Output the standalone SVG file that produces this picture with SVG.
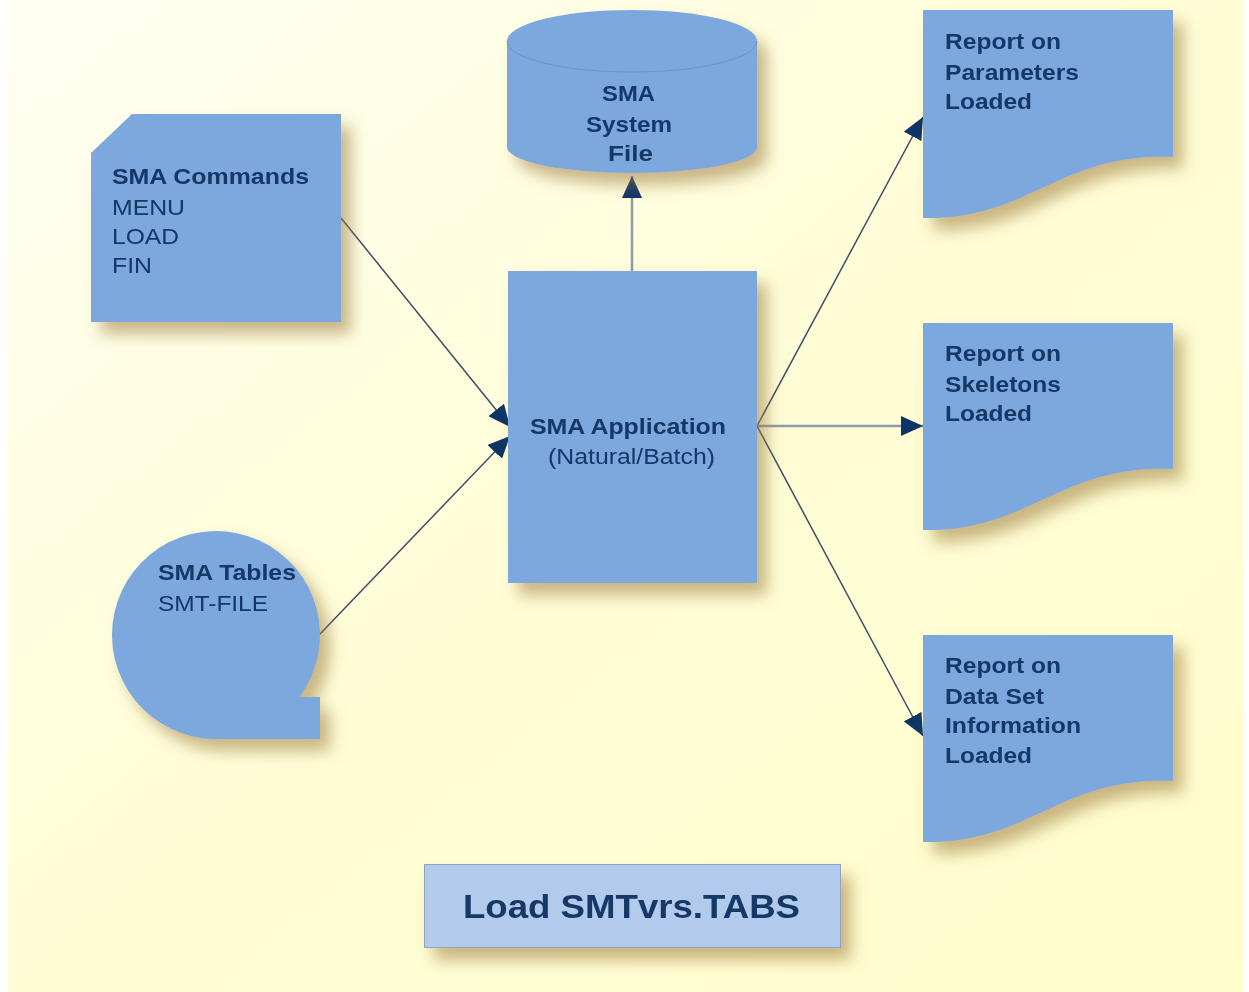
<svg xmlns="http://www.w3.org/2000/svg" width="1249" height="992" viewBox="0 0 1249 992">
<defs>
<linearGradient id="bg" x1="0" y1="0" x2="1" y2="1">
<stop offset="0" stop-color="#FFFFF2"/>
<stop offset="0.5" stop-color="#FFFDD6"/>
<stop offset="1" stop-color="#FFFDCC"/>
</linearGradient>
<filter id="sh" x="-20%" y="-20%" width="150%" height="150%">
<feGaussianBlur in="SourceAlpha" stdDeviation="8"/>
<feOffset dx="10" dy="12" result="b"/>
<feFlood flood-color="#9C7A3C" flood-opacity="0.55"/>
<feComposite in2="b" operator="in"/>
<feMerge><feMergeNode/><feMergeNode in="SourceGraphic"/></feMerge>
</filter>
<marker id="ah" viewBox="0 0 22 20" refX="22" refY="10" markerWidth="22" markerHeight="20" markerUnits="userSpaceOnUse" orient="auto">
<path d="M0,0 L22,10 L0,20 Z" fill="#0D3466"/>
</marker>
<style>
.node{fill:#7DA8DE;}
text{font-family:'Liberation Sans',Arial,Helvetica,sans-serif;font-size:22px;fill:#123766;}
.b{font-weight:bold;}
.c{stroke:#3C4E68;stroke-width:1.5;fill:none;}
.g{stroke:#8E9BA8;stroke-width:2.5;fill:none;}
</style>
</defs>
<rect x="0" y="0" width="1249" height="992" fill="#FFFFFF"/>
<rect x="8" y="0" width="1236" height="992" fill="url(#bg)"/>

<g id="connectors">
<line class="c" x1="341" y1="218" x2="510" y2="427" marker-end="url(#ah)"/>
<line class="c" x1="320" y1="634" x2="510" y2="436" marker-end="url(#ah)"/>
<line class="g" x1="632" y1="271" x2="632" y2="176" marker-end="url(#ah)"/>
<line class="c" x1="757" y1="426" x2="923" y2="117" marker-end="url(#ah)"/>
<line class="g" x1="757" y1="426" x2="923" y2="426" marker-end="url(#ah)"/>
<line class="c" x1="757" y1="426" x2="923" y2="736" marker-end="url(#ah)"/>
</g>

<g id="sma-commands" filter="url(#sh)">
<path class="node" d="M132,114 L341,114 L341,322 L91,322 L91,153 Z"/>
<text class="b" x="112" y="184" textLength="197" lengthAdjust="spacingAndGlyphs">SMA Commands</text>
<text x="112" y="215" textLength="73" lengthAdjust="spacingAndGlyphs">MENU</text>
<text x="112" y="244" textLength="67" lengthAdjust="spacingAndGlyphs">LOAD</text>
<text x="112" y="273" textLength="40" lengthAdjust="spacingAndGlyphs">FIN</text>
</g>

<g id="sma-tables" filter="url(#sh)">
<path class="node" d="M320,739 L216,739 A104,104 0 1 1 299.5,697 L320,697 Z"/>
<text class="b" x="158" y="580" textLength="138" lengthAdjust="spacingAndGlyphs">SMA Tables</text>
<text x="158" y="611" textLength="110" lengthAdjust="spacingAndGlyphs">SMT-FILE</text>
</g>

<g id="sma-system-file" filter="url(#sh)">
<path class="node" d="M507,41 A125,31 0 0 1 757,41 L757,147 A125,26 0 0 1 507,147 Z"/>
<path d="M507,41 A125,31 0 0 0 757,41" fill="none" stroke="#6B93C8" stroke-width="1"/>
<text class="b" x="602" y="101" textLength="53" lengthAdjust="spacingAndGlyphs">SMA</text>
<text class="b" x="586" y="132" textLength="86" lengthAdjust="spacingAndGlyphs">System</text>
<text class="b" x="608" y="161" textLength="45" lengthAdjust="spacingAndGlyphs">File</text>
</g>

<g id="sma-application" filter="url(#sh)">
<rect class="node" x="508" y="271" width="249" height="312"/>
<text class="b" x="530" y="434" textLength="196" lengthAdjust="spacingAndGlyphs">SMA Application</text>
<text x="548" y="464" textLength="167" lengthAdjust="spacingAndGlyphs">(Natural/Batch)</text>
</g>

<g id="report-parameters" filter="url(#sh)">
<path class="node" d="M923,10 L1173,10 L1173,157 C1060,152 1030,220 923,218 Z"/>
<text class="b" x="945" y="49" textLength="116" lengthAdjust="spacingAndGlyphs">Report on</text>
<text class="b" x="945" y="80" textLength="134" lengthAdjust="spacingAndGlyphs">Parameters</text>
<text class="b" x="945" y="109" textLength="87" lengthAdjust="spacingAndGlyphs">Loaded</text>
</g>

<g id="report-skeletons" filter="url(#sh)">
<path class="node" d="M923,323 L1173,323 L1173,469 C1060,464 1030,532 923,530 Z"/>
<text class="b" x="945" y="361" textLength="116" lengthAdjust="spacingAndGlyphs">Report on</text>
<text class="b" x="945" y="392" textLength="116" lengthAdjust="spacingAndGlyphs">Skeletons</text>
<text class="b" x="945" y="421" textLength="87" lengthAdjust="spacingAndGlyphs">Loaded</text>
</g>

<g id="report-dataset" filter="url(#sh)">
<path class="node" d="M923,635 L1173,635 L1173,781 C1060,776 1030,844 923,842 Z"/>
<text class="b" x="945" y="673" textLength="116" lengthAdjust="spacingAndGlyphs">Report on</text>
<text class="b" x="945" y="704" textLength="99" lengthAdjust="spacingAndGlyphs">Data Set</text>
<text class="b" x="945" y="733" textLength="136" lengthAdjust="spacingAndGlyphs">Information</text>
<text class="b" x="945" y="763" textLength="87" lengthAdjust="spacingAndGlyphs">Loaded</text>
</g>

<g id="title" filter="url(#sh)">
<rect x="424.5" y="864.5" width="416" height="83" fill="#B2CAEC" stroke="#8FA3BE" stroke-width="1"/>
<text class="b" x="463" y="918" style="font-size:34px" textLength="337" lengthAdjust="spacingAndGlyphs">Load SMTvrs.TABS</text>
</g>
</svg>
